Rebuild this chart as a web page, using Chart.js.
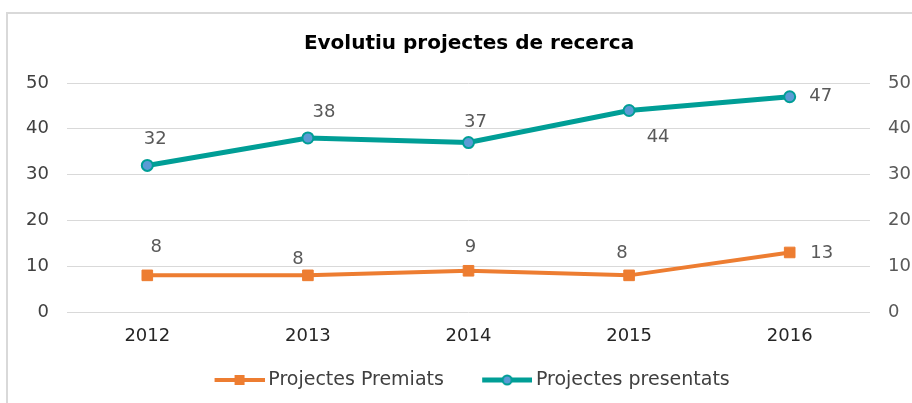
<!DOCTYPE html>
<html>
<head>
<meta charset="utf-8">
<script src="https://cdn.jsdelivr.net/npm/chart.js@4.4.1/dist/chart.umd.min.js"></script>
<style>
  html, body { margin: 0; padding: 0; background: #fff; overflow: hidden; }
  #wrap { position: relative; width: 912px; height: 403px; }
  #frame { position: absolute; left: 6px; top: 12px; width: 1000px; height: 500px; border: 2px solid #d9d9d9; box-sizing: border-box; }
  #chart { position: absolute; left: 0; top: 0; }
</style>
</head>
<body>
<div id="wrap">
  <div id="frame"></div>
  <canvas id="chart" width="912" height="403"></canvas>
</div>
<script>
// data
const years = ['2012', '2013', '2014', '2015', '2016'];
const premiats = [8, 8, 9, 8, 13];
const presentats = [32, 38, 37, 44, 47];
const yTicks = [0, 10, 20, 30, 40, 50];

// label offsets (px) from each point, mimicking Excel's placement
const premiatsLabelPos = [[9, -28], [-10, -16], [2, -23], [-7, -22], [32, 1]];
const presentatsLabelPos = [[8, -26], [16, -26], [7, -20], [29, 27], [31, 0]];

const ORANGE = '#ED7D31';
const TEAL = '#009E96';
const FONT = 'DejaVu Sans';

// legend swatch: short line with the marker on it
function swatch(color, marker) {
  const c = document.createElement('canvas');
  c.width = 62; c.height = 14;
  const g = c.getContext('2d');
  g.strokeStyle = color;
  g.lineWidth = marker === 'rect' ? 4 : 5;
  g.beginPath(); g.moveTo(12, 7); g.lineTo(62, 7); g.stroke();
  if (marker === 'rect') {
    g.fillStyle = color;
    g.fillRect(32, 2, 10, 10);
  } else {
    g.fillStyle = '#5B9BD5';
    g.lineWidth = 2;
    g.beginPath(); g.arc(37, 7, 4.5, 0, Math.PI * 2); g.fill(); g.stroke();
  }
  return c;
}
const swatches = [swatch(ORANGE, 'rect'), swatch(TEAL, 'circle')];

const pointLabels = {
  id: 'pointLabels',
  // x tick labels hang below the (short) x axis box; widen its clip area
  beforeDraw(chart) {
    chart.scales.x.bottom = chart.height;
  },
  afterDatasetsDraw(chart) {
    const ctx = chart.ctx;
    ctx.save();
    ctx.font = `18px "${FONT}"`;
    ctx.fillStyle = '#595959';
    ctx.textAlign = 'center';
    ctx.textBaseline = 'middle';
    chart.data.datasets.forEach((ds, di) => {
      const meta = chart.getDatasetMeta(di);
      meta.data.forEach((pt, i) => {
        const [dx, dy] = ds.labelPos[i];
        ctx.fillText(String(ds.data[i]), pt.x + dx, pt.y + dy);
      });
    });
    ctx.restore();
  }
};

new Chart(document.getElementById('chart'), {
  type: 'line',
  data: {
    labels: years,
    datasets: [
      {
        label: 'Projectes Premiats',
        data: premiats,
        labelPos: premiatsLabelPos,
        borderColor: ORANGE,
        backgroundColor: ORANGE,
        borderWidth: 4,
        pointStyle: 'rect',
        pointRadius: 7.5,
        pointBorderWidth: 1,
        pointBackgroundColor: ORANGE,
        pointBorderColor: ORANGE,
        tension: 0,
      },
      {
        label: 'Projectes presentats',
        data: presentats,
        labelPos: presentatsLabelPos,
        borderColor: TEAL,
        backgroundColor: TEAL,
        borderWidth: 5,
        pointStyle: 'circle',
        pointRadius: 5.5,
        pointBorderWidth: 2,
        pointBackgroundColor: '#5B9BD5',
        pointBorderColor: TEAL,
        tension: 0,
      },
    ],
  },
  options: {
    responsive: false,
    animation: false,
    layout: { padding: { left: 26, right: 0, top: 20, bottom: 3.5 } },
    plugins: {
      tooltip: { enabled: false },
      title: {
        display: true,
        text: 'Evolutiu projectes de recerca',
        color: '#000',
        font: { family: FONT, size: 20, weight: 'bold' },
        padding: { top: 12, bottom: 27 },
      },
      legend: {
        position: 'bottom',
        labels: {
          font: { family: FONT, size: 19 },
          color: '#404040',
          usePointStyle: true,
          pointStyleWidth: 50.5,
          padding: 32,
          generateLabels(chart) {
            const items = Chart.defaults.plugins.legend.labels.generateLabels(chart);
            items.forEach((it, i) => { it.pointStyle = swatches[i]; });
            return items;
          },
        },
      },
    },
    scales: {
      x: {
        offset: true,
        grid: { display: false, drawTicks: false },
        border: { display: false },
        ticks: { color: '#262626', font: { family: FONT, size: 18 }, padding: 13.2 },
        afterFit(axis) { axis.height = 26.5; },
      },
      y: {
        position: 'left',
        min: 0, max: 50,
        afterBuildTicks(axis) { axis.ticks = yTicks.map((v) => ({ value: v })); },
        grid: { color: '#d9d9d9', lineWidth: 1, drawTicks: false },
        border: { display: false },
        ticks: { color: '#404040', font: { family: FONT, size: 18 }, padding: 18 },
        afterFit(axis) { axis.width = 41; },
      },
      y2: {
        position: 'right',
        min: 0, max: 50,
        afterBuildTicks(axis) { axis.ticks = yTicks.map((v) => ({ value: v })); },
        grid: { display: false, drawTicks: false },
        border: { display: false },
        ticks: { color: '#595959', font: { family: FONT, size: 18 }, padding: 18 },
        afterFit(axis) { axis.width = 42; },
      },
    },
  },
  plugins: [pointLabels],
});
</script>
</body>
</html>
